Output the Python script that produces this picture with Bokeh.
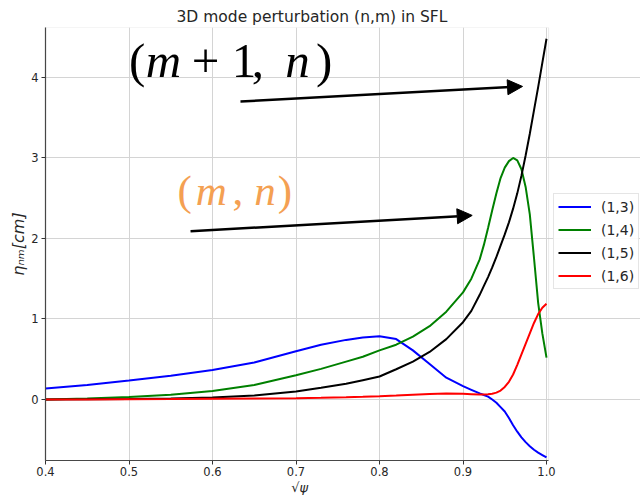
from bokeh.plotting import figure
from bokeh.models import (Range1d, FixedTicker, Legend, LegendItem, Label, Arrow,
                          NormalHead, PrintfTickFormatter, BoxAnnotation)
from bokeh.embed import file_html
from bokeh.resources import INLINE

# ---- data ----
psi = [0.40, 0.45, 0.50, 0.55, 0.60, 0.65, 0.70, 0.73, 0.76, 0.78, 0.80, 0.82, 0.84,
       0.86, 0.88, 0.90, 0.91, 0.92, 0.925, 0.93, 0.935, 0.94, 0.945, 0.95, 0.955,
       0.96, 0.965, 0.97, 0.975, 0.98, 0.985, 0.99, 0.995, 1.00]
mode_13 = [0.135, 0.18, 0.235, 0.295, 0.365, 0.46, 0.60, 0.68, 0.74, 0.77, 0.785, 0.75,
           0.61, 0.44, 0.27, 0.165, 0.12, 0.075, 0.055, 0.035, 0.0, -0.04, -0.095,
           -0.15, -0.23, -0.32, -0.40, -0.47, -0.53, -0.58, -0.625, -0.66, -0.69, -0.72]
mode_14 = [0.0, 0.012, 0.03, 0.06, 0.105, 0.18, 0.30, 0.38, 0.47, 0.53, 0.61, 0.68,
           0.78, 0.91, 1.09, 1.33, 1.50, 1.74, 1.92, 2.13, 2.35, 2.56, 2.75, 2.88,
           2.96, 3.0, 2.97, 2.86, 2.64, 2.30, 1.76, 1.20, 0.82, 0.52]
mode_15 = [0.0, 0.002, 0.005, 0.012, 0.025, 0.05, 0.10, 0.145, 0.195, 0.24, 0.285,
           0.375, 0.47, 0.59, 0.75, 0.96, 1.10, 1.30, 1.41, 1.52, 1.64, 1.77, 1.91,
           2.05, 2.20, 2.37, 2.56, 2.78, 3.03, 3.30, 3.59, 3.88, 4.18, 4.48]
mode_16 = [0.0, 0.001, 0.003, 0.005, 0.008, 0.012, 0.016, 0.02, 0.027, 0.033, 0.04,
           0.048, 0.058, 0.068, 0.075, 0.07, 0.066, 0.062, 0.062, 0.065, 0.072, 0.085,
           0.11, 0.155, 0.22, 0.31, 0.43, 0.56, 0.69, 0.82, 0.95, 1.06, 1.14, 1.19]
series_labels = ["(1,3)", "(1,4)", "(1,5)", "(1,6)"]
series_colors = ["#0000ff", "#008000", "#000000", "#ff0000"]
x_ticks = [0.4, 0.5, 0.6, 0.7, 0.8, 0.9, 1.0]
y_ticks = [0, 1, 2, 3, 4]

X0, X1 = 0.4, 1.0025      # axes limits
Y0, Y1 = -0.758, 4.62

p = figure(width=640, height=497, output_backend="svg", toolbar_location=None,
           x_range=Range1d(X0, 1.11257), y_range=Range1d(Y0, Y1),
           min_border_left=45, min_border_right=0, min_border_top=27,
           min_border_bottom=37, background_fill_color="white",
           border_fill_color="white")
p.outline_line_color = None

p.title.text = "3D mode perturbation (n,m) in SFL"
p.title.align = "left"
p.title.offset = 131
p.title.standoff = 3
p.title.text_font = "DejaVu Sans"
p.title.text_font_size = "15.5px"
p.title.text_font_style = "normal"
p.title.text_color = "#262626"

for ax in (p.xaxis[0], p.yaxis[0]):
    ax.axis_line_color = "#333333"
    ax.axis_line_width = 1.2
    ax.major_tick_line_color = "#333333"
    ax.major_tick_in = 0
    ax.major_tick_out = 4
    ax.minor_tick_line_color = None
    ax.major_label_text_font = "DejaVu Sans"
    ax.major_label_text_font_size = "11.5px"
    ax.major_label_text_color = "#262626"
    ax.major_label_standoff = 3

p.xaxis.bounds = (X0, X1)
p.xaxis.ticker = FixedTicker(ticks=x_ticks)
p.xaxis.formatter = PrintfTickFormatter(format="%.1f")
p.xaxis.major_label_standoff = 2
# axis label is centred on the (wider) frame: pad with no-break spaces so the
# visible part sits under the axes box centre
p.xaxis.axis_label = "√ψ" + "\u00a0" * 21
p.xaxis.axis_label_text_font = "DejaVu Sans"
p.xaxis.axis_label_text_font_style = "italic"
p.xaxis.axis_label_text_font_size = "13px"
p.xaxis.axis_label_text_color = "#262626"
p.xaxis.axis_label_standoff = 1

p.yaxis.ticker = FixedTicker(ticks=y_ticks)
p.yaxis.formatter = PrintfTickFormatter(format="%d")
p.yaxis.axis_label = "ηₙₘ[cm]"
p.yaxis.axis_label_text_font = "DejaVu Sans"
p.yaxis.axis_label_text_font_style = "italic"
p.yaxis.axis_label_text_font_size = "16px"
p.yaxis.axis_label_text_color = "#262626"
p.yaxis.axis_label_standoff = 0

p.xgrid.grid_line_color = "#d4d4d4"
p.ygrid.grid_line_color = "#d4d4d4"
p.xgrid.ticker = FixedTicker(ticks=x_ticks)
p.ygrid.ticker = FixedTicker(ticks=y_ticks)
p.ygrid.bounds = (X0, X1)

series = [mode_13, mode_14, mode_15, mode_16]
items = []
for vals, lab, col in zip(series, series_labels, series_colors):
    r = p.line(psi, vals, line_color=col, line_width=2)
    items.append(LegendItem(label=lab, renderers=[r]))

# subscript T of the x-axis label
p.add_layout(Label(x=0.7145, y=-34, y_units="screen", text="T",
                   text_font="DejaVu Sans", text_font_size="10px",
                   text_font_style="italic", text_color="#262626",
                   text_baseline="alphabetic"))

# ---- annotations ----
def piece(x, y, txt, size, color, style):
    p.add_layout(Label(x=x, y=y, text=txt, text_font="Liberation Serif",
                       text_font_size=size, text_color=color,
                       text_font_style=style, text_baseline="alphabetic",
                       text_align="left"))

big = "49px"
yb = 4.21
piece(0.500, yb, "(", big, "black", "normal")
piece(0.520, yb, "m", big, "black", "italic")
piece(0.575, yb, "+", big, "black", "normal")
piece(0.623, yb, "1", big, "black", "normal")
piece(0.647, yb, ",", big, "black", "normal")
piece(0.687, yb, "n", big, "black", "italic")
piece(0.724, yb, ")", big, "black", "normal")

orange = "#f4a052"
mid = "43px"
yo = 2.6
piece(0.558, yo, "(", mid, orange, "normal")
piece(0.580, yo, "m", mid, orange, "italic")
piece(0.624, yo, ",", mid, orange, "normal")
piece(0.650, yo, "n", mid, orange, "italic")
piece(0.678, yo, ")", mid, orange, "normal")

p.add_layout(Arrow(x_start=0.6335, y_start=3.70, x_end=0.9713, y_end=3.888,
                   line_color="black", line_width=2.5,
                   end=NormalHead(size=15, fill_color="black", line_color="black")))
p.add_layout(Arrow(x_start=0.5737, y_start=2.09, x_end=0.911, y_end=2.286,
                   line_color="black", line_width=2.5,
                   end=NormalHead(size=15, fill_color="black", line_color="black")))

legend = Legend(items=items, location=(508, 171), margin=0, padding=4,
                spacing=6, glyph_width=33, glyph_height=17, label_height=17,
                label_standoff=10, label_text_font="DejaVu Sans",
                label_text_font_size="14px", label_text_color="#262626",
                border_line_color="#cccccc", background_fill_color="white",
                background_fill_alpha=0.9)
p.add_layout(legend)

# axes box
p.add_layout(BoxAnnotation(left=X0, right=X1, bottom=Y0, top=Y1,
                           fill_alpha=0, line_color="#bbbbbb", line_width=1))

open("out.html", "w").write(file_html(p, INLINE))
